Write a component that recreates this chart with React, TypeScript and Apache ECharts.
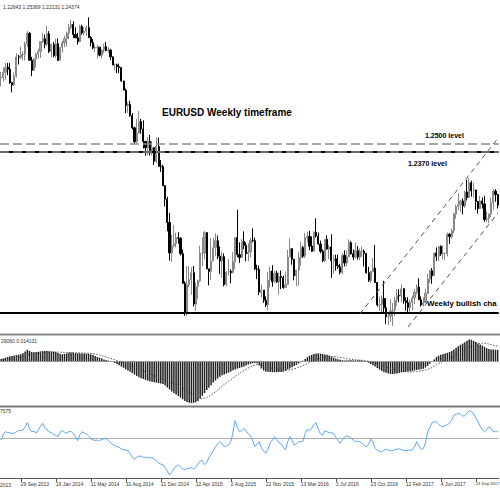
import React, { useEffect, useRef } from "react";
import * as echarts from "echarts";

// Weekly EURUSD bars, first bar = week of 28 Jul 2013
const firstOpen = 1.3275;
const closes = [
  1.3280, 1.3343, 1.3400, 1.3379, 1.3220, 1.3192, 1.3299, 1.3525, 1.3523, 1.3554,
  1.3555, 1.3680, 1.3804, 1.3486, 1.3366, 1.3500, 1.3556, 1.3590, 1.3705, 1.3740,
  1.3675, 1.3800, 1.3590, 1.3670, 1.3540, 1.3680, 1.3485, 1.3635, 1.3690, 1.3740,
  1.3805, 1.3875, 1.3910, 1.3790, 1.3750, 1.3705, 1.3885, 1.3810, 1.3830, 1.3870,
  1.3755, 1.3695, 1.3630, 1.3635, 1.3640, 1.3545, 1.3605, 1.3645, 1.3600, 1.3605,
  1.3525, 1.3430, 1.3430, 1.3410, 1.3400, 1.3240, 1.3130, 1.2950, 1.2965, 1.2830,
  1.2685, 1.2520, 1.2625, 1.2760, 1.2670, 1.2525, 1.2450, 1.2525, 1.2390, 1.2450,
  1.2290, 1.2465, 1.2230, 1.2225, 1.2000, 1.1840, 1.1565, 1.1205, 1.1290, 1.1315,
  1.1385, 1.1380, 1.1195, 1.0845, 1.0495, 1.0825, 1.0890, 1.0970, 1.0600, 1.0805,
  1.0875, 1.1200, 1.1200, 1.1445, 1.1015, 1.0985, 1.1110, 1.1265, 1.1350, 1.1165,
  1.1110, 1.1160, 1.0830, 1.0980, 1.0985, 1.0970, 1.1105, 1.1385, 1.1185, 1.1150,
  1.1340, 1.1295, 1.1195, 1.1215, 1.1355, 1.1350, 1.1015, 1.1010, 1.0740, 1.0765,
  1.0645, 1.0590, 1.0885, 1.0990, 1.0865, 1.0965, 1.0860, 1.0925, 1.0915, 1.0795,
  1.0830, 1.1155, 1.1255, 1.1130, 1.0935, 1.1000, 1.1150, 1.1270, 1.1165, 1.1390,
  1.1400, 1.1285, 1.1225, 1.1450, 1.1405, 1.1310, 1.1225, 1.1115, 1.1365, 1.1250,
  1.1275, 1.1115, 1.1135, 1.1055, 1.1040, 1.0975, 1.1175, 1.1085, 1.1160, 1.1325,
  1.1195, 1.1155, 1.1230, 1.1155, 1.1225, 1.1225, 1.1200, 1.0970, 1.0880, 1.0985,
  1.1025, 1.0855, 1.0590, 1.0595, 1.0665, 1.0555, 1.0450, 1.0455, 1.0520, 1.0530,
  1.0645, 1.0700, 1.0695, 1.0780, 1.0640, 1.0615, 1.0560, 1.0620, 1.0670, 1.0740,
  1.0800, 1.0650, 1.0590, 1.0615, 1.0725, 1.0895, 1.0995, 1.0935, 1.1205, 1.1165,
  1.1280, 1.1195, 1.1195, 1.1195, 1.1425, 1.1400, 1.1470, 1.1665, 1.1750, 1.1775,
  1.1820, 1.1760, 1.1925, 1.1860, 1.2035, 1.1940, 1.1950, 1.1815, 1.1730, 1.1820,
  1.1785, 1.1600, 1.1610, 1.1665, 1.1795, 1.1935, 1.1895, 1.1770,
];
const highs = [
  1.3346, 1.3400, 1.3450, 1.3452, 1.3452, 1.3230, 1.3340, 1.3568, 1.3550, 1.3646,
  1.3590, 1.3705, 1.3832, 1.3818, 1.3525, 1.3513, 1.3575, 1.3620, 1.3710, 1.3810,
  1.3790, 1.3893, 1.3830, 1.3685, 1.3700, 1.3740, 1.3740, 1.3640, 1.3715, 1.3775,
  1.3825, 1.3915, 1.3967, 1.3945, 1.3875, 1.3810, 1.3905, 1.3905, 1.3875, 1.3890,
  1.3993, 1.3770, 1.3735, 1.3670, 1.3670, 1.3640, 1.3615, 1.3680, 1.3700, 1.3640,
  1.3620, 1.3530, 1.3445, 1.3445, 1.3445, 1.3385, 1.3225, 1.3150, 1.2985, 1.3005,
  1.2860, 1.2700, 1.2790, 1.2885, 1.2790, 1.2775, 1.2530, 1.2575, 1.2600, 1.2530,
  1.2455, 1.2570, 1.2570, 1.2305, 1.2250, 1.1965, 1.1870, 1.1680, 1.1420, 1.1535,
  1.1445, 1.1450, 1.1390, 1.1245, 1.0870, 1.1045, 1.1050, 1.1035, 1.1050, 1.0850,
  1.0890, 1.1290, 1.1390, 1.1465, 1.1445, 1.1020, 1.1380, 1.1385, 1.1435, 1.1410,
  1.1280, 1.1215, 1.1200, 1.0985, 1.1130, 1.1010, 1.1215, 1.1390, 1.1715, 1.1330,
  1.1370, 1.1460, 1.1330, 1.1320, 1.1385, 1.1495, 1.1385, 1.1065, 1.1055, 1.0830,
  1.0760, 1.0690, 1.0980, 1.1045, 1.1060, 1.0990, 1.0995, 1.0970, 1.0995, 1.0935,
  1.0985, 1.1240, 1.1375, 1.1245, 1.1105, 1.1005, 1.1215, 1.1340, 1.1290, 1.1440,
  1.1455, 1.1465, 1.1400, 1.1460, 1.1615, 1.1445, 1.1350, 1.1245, 1.1370, 1.1415,
  1.1300, 1.1425, 1.1185, 1.1185, 1.1185, 1.1075, 1.1200, 1.1235, 1.1235, 1.1365,
  1.1345, 1.1245, 1.1325, 1.1285, 1.1255, 1.1280, 1.1245, 1.1205, 1.1040, 1.0995,
  1.1145, 1.1300, 1.0825, 1.0690, 1.0700, 1.0875, 1.0670, 1.0495, 1.0655, 1.0615,
  1.0685, 1.0775, 1.0775, 1.0830, 1.0790, 1.0680, 1.0680, 1.0650, 1.0700, 1.0780,
  1.0830, 1.0905, 1.0690, 1.0680, 1.0780, 1.0955, 1.1000, 1.1025, 1.1205, 1.1270,
  1.1285, 1.1295, 1.1295, 1.1210, 1.1445, 1.1440, 1.1490, 1.1680, 1.1775, 1.1910,
  1.1830, 1.1850, 1.1940, 1.2070, 1.2092, 1.2060, 1.2035, 1.1950, 1.1810, 1.1880,
  1.1860, 1.1880, 1.1690, 1.1670, 1.1860, 1.1960, 1.1960, 1.1900,
];
const lows = [
  1.3176, 1.3233, 1.3255, 1.3309, 1.3204, 1.3105, 1.3180, 1.3280, 1.3434, 1.3495,
  1.3485, 1.3480, 1.3640, 1.3480, 1.3296, 1.3365, 1.3400, 1.3505, 1.3510, 1.3690,
  1.3625, 1.3650, 1.3570, 1.3520, 1.3520, 1.3510, 1.3475, 1.3480, 1.3575, 1.3640,
  1.3645, 1.3735, 1.3850, 1.3750, 1.3750, 1.3670, 1.3700, 1.3790, 1.3780, 1.3775,
  1.3745, 1.3650, 1.3615, 1.3585, 1.3503, 1.3530, 1.3503, 1.3570, 1.3590, 1.3575,
  1.3490, 1.3425, 1.3365, 1.3333, 1.3330, 1.3230, 1.3130, 1.2860, 1.2860, 1.2815,
  1.2665, 1.2500, 1.2505, 1.2620, 1.2615, 1.2440, 1.2355, 1.2360, 1.2360, 1.2360,
  1.2245, 1.2270, 1.2220, 1.2165, 1.1995, 1.1755, 1.1460, 1.1115, 1.1100, 1.1270,
  1.1270, 1.1315, 1.1175, 1.0840, 1.0462, 1.0460, 1.0800, 1.0710, 1.0570, 1.0520,
  1.0660, 1.0860, 1.1050, 1.1130, 1.1015, 1.0820, 1.0885, 1.1110, 1.1165, 1.1130,
  1.0955, 1.0915, 1.0810, 1.0810, 1.0935, 1.0845, 1.0965, 1.1015, 1.1155, 1.1085,
  1.1150, 1.1250, 1.1105, 1.1105, 1.1150, 1.1330, 1.1000, 1.0895, 1.0705, 1.0675,
  1.0615, 1.0565, 1.0525, 1.0795, 1.0805, 1.0850, 1.0850, 1.0710, 1.0775, 1.0780,
  1.0805, 1.0825, 1.1160, 1.1065, 1.0880, 1.0810, 1.0820, 1.1055, 1.1145, 1.1145,
  1.1330, 1.1235, 1.1215, 1.1235, 1.1385, 1.1305, 1.1200, 1.1095, 1.1095, 1.1245,
  1.1130, 1.0910, 1.0960, 1.0995, 1.1015, 1.0950, 1.0950, 1.1045, 1.1045, 1.1160,
  1.1185, 1.1120, 1.1140, 1.1125, 1.1120, 1.1160, 1.1045, 1.0960, 1.0860, 1.0850,
  1.0975, 1.0850, 1.0570, 1.0520, 1.0505, 1.0505, 1.0365, 1.0350, 1.0390, 1.0340,
  1.0455, 1.0580, 1.0620, 1.0620, 1.0605, 1.0520, 1.0495, 1.0495, 1.0525, 1.0600,
  1.0710, 1.0650, 1.0570, 1.0570, 1.0640, 1.0820, 1.0850, 1.0840, 1.0930, 1.1110,
  1.1110, 1.1170, 1.1130, 1.1120, 1.1165, 1.1310, 1.1370, 1.1440, 1.1610, 1.1710,
  1.1690, 1.1660, 1.1740, 1.1825, 1.1865, 1.1870, 1.1860, 1.1715, 1.1670, 1.1740,
  1.1730, 1.1575, 1.1575, 1.1555, 1.1630, 1.1715, 1.1810, 1.1730,
];
// MACD main (histogram) and signal, in units of 0.001
const macdHist = [
  2.0, 2.6, 3.3, 4.0, 4.7, 5.0, 5.4, 5.9, 6.2, 6.8,
  7.8, 9.5, 11.3, 10.2, 9.0, 8.7, 8.9, 9.2, 9.6, 9.9,
  10.0, 10.0, 9.8, 9.6, 9.3, 9.0, 8.0, 7.0, 6.7, 7.0,
  7.6, 8.2, 8.5, 8.3, 8.0, 7.7, 7.7, 7.6, 7.5, 7.3,
  7.2, 6.8, 6.0, 5.0, 4.1, 3.3, 2.6, 1.6, 0.9, 0.4,
  -0.3, -1.0, -2.0, -3.2, -4.3, -5.6, -6.8, -8.2, -9.6, -10.8,
  -12.0, -13.6, -15.0, -16.2, -17.3, -18.0, -18.8, -19.6, -20.2, -20.8,
  -21.3, -21.6, -22.0, -22.5, -23.0, -24.5, -26.5, -28.5, -30.5, -32.0,
  -33.6, -35.0, -36.5, -38.2, -40.0, -41.0, -41.8, -42.0, -41.8, -41.3,
  -40.0, -37.5, -34.8, -32.0, -29.0, -26.8, -24.2, -21.5, -19.5, -17.5,
  -15.8, -14.2, -13.5, -12.5, -11.6, -10.5, -9.2, -8.4, -7.6, -7.0,
  -6.2, -5.4, -4.6, -3.6, -2.8, -2.2, -2.0, -2.3, -4.5, -7.5,
  -9.5, -10.5, -10.8, -11.0, -11.1, -11.2, -11.1, -11.0, -11.0, -10.8,
  -9.8, -8.5, -7.5, -6.2, -5.0, -3.8, -2.5, -1.2, 0.2, 2.0,
  3.8, 5.3, 6.2, 7.0, 7.5, 7.6, 7.4, 7.0, 6.6, 6.2,
  5.4, 4.4, 3.4, 2.5, 1.8, 1.2, 0.8, 0.6, 0.6, 0.8,
  0.8, 0.7, 0.7, 0.6, 0.7, 0.6, 0.2, -0.6, -1.8, -3.0,
  -4.2, -5.4, -7.0, -8.6, -10.0, -11.0, -11.8, -12.5, -12.9, -13.0,
  -12.8, -12.4, -12.0, -11.4, -11.0, -10.8, -10.5, -10.2, -9.9, -9.5,
  -9.0, -8.5, -8.2, -7.8, -6.6, -4.8, -2.8, -0.8, 1.5, 4.0,
  5.3, 6.2, 7.0, 7.6, 8.2, 9.0, 10.0, 11.5, 13.2, 14.8,
  16.2, 17.5, 18.8, 20.2, 21.5, 21.2, 20.2, 19.0, 17.6, 16.5,
  15.5, 14.2, 12.8, 12.0, 11.6, 11.5, 11.3, 11.0,
];
const macdSignal = [
  0.5, 0.9, 1.3, 1.7, 2.0, 2.4, 2.8, 3.2, 3.6, 4.0,
  4.6, 5.3, 6.0, 6.5, 6.9, 7.2, 7.5, 7.8, 8.0, 8.3,
  8.5, 8.7, 8.8, 8.9, 9.0, 9.0, 9.0, 8.8, 8.6, 8.5,
  8.4, 8.5, 8.5, 8.4, 8.3, 8.2, 8.2, 8.1, 8.0, 7.9,
  7.8, 7.6, 7.3, 6.9, 6.4, 6.0, 5.4, 4.7, 4.0, 3.3,
  2.6, 2.0, 1.2, 0.3, -0.5, -1.3, -2.1, -2.8, -3.5, -4.2,
  -5.0, -5.9, -6.8, -7.7, -8.7, -9.8, -10.9, -12.0, -13.0, -13.9,
  -14.8, -15.6, -16.6, -17.3, -18.1, -18.8, -19.5, -20.5, -21.5, -22.5,
  -23.5, -24.5, -25.6, -27.0, -28.5, -30.0, -31.5, -33.0, -34.5, -35.8,
  -36.6, -37.2, -37.5, -37.3, -36.6, -35.3, -33.8, -32.3, -30.8, -29.0,
  -27.0, -25.2, -23.5, -21.8, -20.2, -18.6, -17.0, -15.4, -13.8, -12.4,
  -11.0, -9.6, -8.2, -7.0, -5.8, -4.8, -4.0, -3.6, -3.6, -4.0,
  -4.8, -5.5, -6.2, -6.8, -7.3, -7.8, -8.2, -8.5, -8.8, -9.0,
  -9.0, -8.9, -8.7, -8.3, -7.8, -7.2, -6.4, -5.5, -4.6, -3.6,
  -2.6, -1.6, -0.5, 0.4, 1.3, 2.1, 2.8, 3.4, 3.8, 4.2,
  4.4, 4.5, 4.5, 4.3, 4.0, 3.6, 3.2, 2.8, 2.4, 2.0,
  1.7, 1.5, 1.3, 1.1, 0.9, 0.7, 0.5, 0.2, -0.2, -0.7,
  -1.2, -1.8, -2.6, -3.4, -4.2, -5.0, -5.9, -6.8, -7.6, -8.3,
  -9.0, -9.5, -10.0, -10.4, -10.7, -10.9, -11.0, -11.0, -10.9, -10.7,
  -10.5, -10.2, -9.9, -9.5, -9.0, -8.4, -7.5, -6.5, -5.2, -3.8,
  -2.6, -1.5, -0.5, 0.5, 1.5, 2.5, 3.6, 4.7, 5.9, 7.2,
  8.6, 10.0, 11.4, 12.8, 14.2, 15.4, 16.4, 17.2, 17.6, 17.8,
  17.9, 17.8, 17.4, 16.9, 16.4, 15.8, 15.3, 14.8,
];
const rsi = [
  48.6, 53.5, 55.5, 54.8, 54.7, 53.8, 54.2, 55.5, 56.3, 56.5,
  56.9, 59.5, 63.0, 58.0, 55.5, 55.8, 54.4, 57.0, 60.0, 62.5,
  59.0, 56.9, 55.5, 54.5, 53.0, 52.5, 51.3, 55.0, 56.3, 55.0,
  54.2, 55.5, 55.8, 53.8, 51.5, 48.0, 53.0, 55.5, 54.5, 53.6,
  52.0, 49.5, 48.6, 48.3, 48.5, 48.0, 49.0, 49.5, 50.0, 48.0,
  46.5, 45.0, 44.0, 43.0, 42.5, 40.8, 40.5, 40.0, 39.7, 37.0,
  34.5, 32.5, 34.0, 35.3, 35.0, 34.2, 34.0, 34.2, 33.5, 33.8,
  32.5, 31.5, 29.2, 28.5, 27.5, 25.8, 22.5, 19.4, 22.0, 25.0,
  26.5, 27.8, 26.0, 24.5, 23.6, 25.0, 25.0, 25.5, 24.5, 25.8,
  28.5, 31.0, 31.5, 28.0, 30.0, 34.0, 37.0, 39.5, 43.0, 45.5,
  47.2, 45.5, 43.0, 43.5, 44.4, 47.0, 55.0, 64.7, 59.0, 55.5,
  56.5, 58.3, 56.0, 53.5, 52.0, 48.0, 43.0, 45.0, 47.2, 42.0,
  39.5, 37.5, 41.0, 46.0, 48.5, 51.3, 49.0, 46.3, 45.5, 42.5,
  40.3, 47.0, 51.3, 48.0, 44.4, 45.5, 47.2, 47.2, 47.5, 54.0,
  57.5, 56.5, 58.3, 61.5, 63.0, 57.5, 53.6, 52.5, 56.3, 55.5,
  54.7, 54.5, 54.2, 51.0, 48.0, 45.8, 49.0, 51.3, 52.0, 51.3,
  50.0, 48.5, 47.2, 47.5, 47.2, 45.5, 44.0, 43.0, 45.0, 49.2,
  47.0, 41.7, 40.0, 38.8, 38.8, 40.0, 40.8, 40.2, 39.7, 39.7,
  40.5, 41.0, 41.1, 40.5, 40.0, 39.7, 40.0, 40.3, 40.3, 43.0,
  47.2, 44.0, 40.8, 41.5, 46.0, 55.5, 59.0, 63.0, 63.5, 63.8,
  62.0, 60.0, 59.7, 60.5, 61.5, 62.5, 65.0, 69.4, 70.0, 70.8,
  70.0, 68.6, 68.6, 71.0, 73.0, 72.0, 70.8, 67.0, 63.8, 60.0,
  57.0, 55.5, 57.0, 59.7, 58.0, 55.5, 55.5, 55.5,
];
const tickLabels = [
  "29 Sep 2013", "19 Jan 2014", "11 May 2014", "31 Aug 2014", "21 Dec 2014",
  "12 Apr 2015", "2 Aug 2015", "22 Nov 2015", "13 Mar 2016", "3 Jul 2016",
  "23 Oct 2016", "12 Feb 2017", "4 Jun 2017", "24 Sep 2017",
];
const dashedLevels = [1.25, 1.237];
const solidLevels = [1.2438, 1.0494];
const channelUpper = [[164, 1.0482], [227, 1.2557]];
const channelLower = [[186, 1.0328], [227, 1.1673]];

const MONTHS = ["Jan", "Feb", "Mar", "Apr", "May", "Jun", "Jul", "Aug", "Sep", "Oct", "Nov", "Dec"];
const START = Date.UTC(2013, 6, 28);
const weeks = closes.map((_, i) => {
  const d = new Date(START + i * 7 * 86400000);
  return `${d.getUTCDate()} ${MONTHS[d.getUTCMonth()]} ${d.getUTCFullYear()}`;
});

const FONT = '"Liberation Sans", Arial, sans-serif';

export default function App() {
  const ref = useRef<HTMLDivElement>(null);
  useEffect(() => {
    if (!ref.current) return;
    const chart = echarts.init(ref.current, undefined, { renderer: "svg" });
    const candles = closes.map((c, i) => [i === 0 ? firstOpen : closes[i - 1], c, lows[i], highs[i]]);
    const showTick = (_: number, v: string) => tickLabels.includes(v);
    const lastLabel = tickLabels[tickLabels.length - 1];
    const W = 498.75;
    const hidden = { show: false };
    chart.setOption({
      animation: false,
      backgroundColor: "#fff",
      grid: [
        { left: 0, width: W, top: 0, height: 333, outerBoundsMode: "none" },
        { left: 0, width: W, top: 336, height: 69, outerBoundsMode: "none" },
        { left: 0, width: W, top: 408, height: 70, outerBoundsMode: "none" },
      ],
      xAxis: [0, 1, 2].map((g) => ({
        type: "category",
        gridIndex: g,
        data: weeks,
        boundaryGap: true,
        axisLine: g === 2 ? { show: true, lineStyle: { color: "#555", width: 1 } } : hidden,
        axisTick: g === 2 ? { show: true, alignWithLabel: true, interval: showTick, length: 4, lineStyle: { color: "#555" } } : hidden,
        axisLabel: g === 2
          ? {
              show: true,
              interval: showTick,
              align: "left",
              margin: 3,
              fontSize: 5,
              color: "#333",
              fontFamily: FONT,
              formatter: (v: string) => (v === lastLabel ? `{s|${v}}` : v),
              rich: { s: { fontSize: 4.2, color: "#333", fontFamily: FONT } },
            }
          : hidden,
        splitLine: hidden,
      })),
      yAxis: [
        { type: "value", gridIndex: 0, min: 1.0257, max: 1.4198, show: false, splitLine: hidden },
        { type: "value", gridIndex: 1, min: -44, max: 25, show: false, splitLine: hidden },
        { type: "value", gridIndex: 2, min: 16.9, max: 75.25, show: false, splitLine: hidden },
      ],
      series: [
        {
          type: "candlestick",
          xAxisIndex: 0,
          yAxisIndex: 0,
          data: candles,
          barWidth: 1.6,
          itemStyle: { color: "#a0a0a0", color0: "#000", borderColor: "#888", borderColor0: "#000", borderWidth: 1 },
          markLine: {
            silent: true,
            symbol: "none",
            label: { show: false },
            lineStyle: { type: "solid", color: "#000", width: 2 },
            data: solidLevels.map((v) => ({ yAxis: v })),
          },
        },
        {
          type: "line",
          xAxisIndex: 0,
          yAxisIndex: 0,
          data: [],
          symbol: "none",
          markLine: {
            silent: true,
            symbol: "none",
            label: { show: false },
            lineStyle: { type: [9, 4], color: "#8c8c8c", width: 1.5 },
            data: dashedLevels.map((v) => ({ yAxis: v })),
          },
        },
        {
          type: "line",
          xAxisIndex: 0,
          yAxisIndex: 0,
          data: [],
          symbol: "none",
          markLine: {
            silent: true,
            symbol: "none",
            label: { show: false },
            lineStyle: { type: [5, 4], color: "#555", width: 1 },
            data: [
              [{ coord: channelUpper[0] }, { coord: channelUpper[1] }],
              [{ coord: channelLower[0] }, { coord: channelLower[1] }],
            ],
          },
        },
        {
          type: "bar",
          xAxisIndex: 1,
          yAxisIndex: 1,
          data: macdHist,
          barWidth: 1.5,
          itemStyle: { color: "#222" },
          markLine: {
            silent: true,
            symbol: "none",
            label: { show: false },
            lineStyle: { type: "solid", color: "#9a9a9a", width: 1 },
            data: [{ yAxis: 0 }],
          },
        },
        {
          type: "line",
          xAxisIndex: 1,
          yAxisIndex: 1,
          data: macdSignal,
          symbol: "none",
          lineStyle: { type: [1.5, 1.5], color: "#555", width: 1 },
          z: 5,
        },
        {
          type: "line",
          xAxisIndex: 2,
          yAxisIndex: 2,
          data: rsi,
          symbol: "none",
          lineStyle: { color: "#5aa8f8", width: 1 },
          markLine: {
            silent: true,
            symbol: "none",
            label: { show: false },
            lineStyle: { type: "solid", color: "#b0b0b0", width: 1 },
            data: [{ yAxis: 50 }],
          },
          z: 5,
        },
      ],
      graphic: [
        { type: "rect", shape: { x: 0, y: 333.5, width: 500, height: 2 }, style: { fill: "#858585" }, silent: true },
        { type: "rect", shape: { x: 0, y: 405.5, width: 500, height: 2 }, style: { fill: "#7a7a7a" }, silent: true },
        { type: "text", x: 3, y: 6.7, style: { text: "1.22643 1.25369 1.22131 1.24374", font: `5px ${FONT}`, fill: "#333", textVerticalAlign: "middle" } },
        { type: "text", x: 162, y: 112, style: { text: "EURUSD Weekly timeframe", font: `bold 10px ${FONT}`, fill: "#000", textVerticalAlign: "middle" } },
        { type: "text", x: 425, y: 135.7, style: { text: "1.2500 level", font: `bold 7px ${FONT}`, fill: "#000", textVerticalAlign: "middle" } },
        { type: "text", x: 408, y: 163.3, style: { text: "1.2370 level", font: `bold 7px ${FONT}`, fill: "#000", textVerticalAlign: "middle" } },
        { type: "text", x: 427, y: 303, style: { text: "Weekly bullish cha", font: `bold 7.8px ${FONT}`, fill: "#000", textVerticalAlign: "middle" } },
        { type: "text", x: 1, y: 341, style: { text: "29060 0.014131", font: `5px ${FONT}`, fill: "#333", textVerticalAlign: "middle" } },
        { type: "text", x: 0, y: 411, style: { text: "7575", font: `5px ${FONT}`, fill: "#333", textVerticalAlign: "middle" } },
        { type: "text", x: 0, y: 484.5, style: { text: "2013", font: `5px ${FONT}`, fill: "#333", textVerticalAlign: "middle" } },
      ],
    });
    return () => chart.dispose();
  }, []);
  return <div ref={ref} style={{ position: "absolute", left: 0, top: 0, width: 500, height: 490, background: "#fff" }} />;
}
